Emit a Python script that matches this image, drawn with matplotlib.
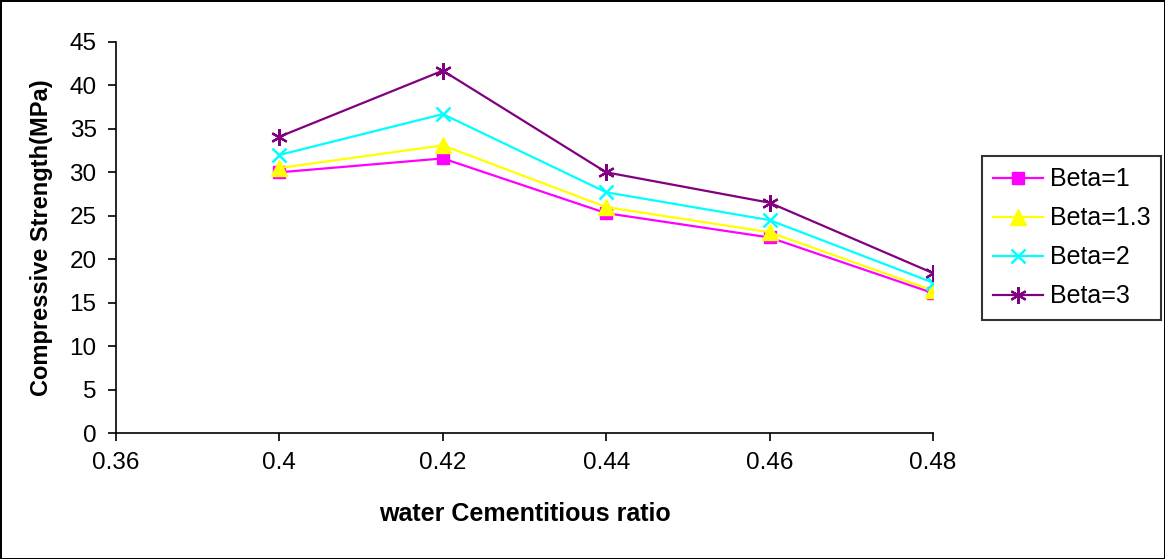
import matplotlib.pyplot as plt

plt.rcParams['font.family'] = ['Liberation Sans', 'DejaVu Sans']

# category axis (as in a spreadsheet line chart); 0.36 has no data
categories = ['0.36', '0.4', '0.42', '0.44', '0.46', '0.48']
data_categories = ['0.4', '0.42', '0.44', '0.46', '0.48']

# compressive strength (MPa) per beta value
beta_1 = [30.0, 31.6, 25.3, 22.5, 16.1]
beta_1_3 = [30.5, 33.1, 26.0, 23.1, 16.4]
beta_2 = [32.0, 36.7, 27.7, 24.5, 17.3]
beta_3 = [34.1, 41.7, 30.0, 26.5, 18.4]

pos = [categories.index(c) for c in data_categories]

fig = plt.figure(figsize=(11.65, 5.59), dpi=100, linewidth=2, edgecolor='black')
ax = fig.add_axes([0.0996, 0.2254, 0.7013, 0.6995])

ax.plot(pos, beta_1, color='#FF00FF', marker='s', markersize=9, lw=1.6, label='Beta=1')
ax.plot(pos, beta_1_3, color='#FFFF00', marker='^', markersize=11, lw=1.6, label='Beta=1.3')
ax.plot(pos, beta_2, color='#00FFFF', marker='x', markersize=10, mew=1.8, lw=1.6, label='Beta=2')
ax.plot(pos, beta_3, color='#800080', marker=(6, 2, 0), markersize=12, mew=1.6, lw=1.6, label='Beta=3')

ax.set_xlim(0, len(categories) - 1)
ax.set_ylim(0, 45)
ax.set_xticks(range(len(categories)))
ax.set_xticklabels(categories)
ax.set_yticks(range(0, 46, 5))
ax.tick_params(labelsize=17.5, length=6, width=1.2, direction='out', pad=8)
ax.spines['top'].set_visible(False)
ax.spines['right'].set_visible(False)
ax.spines['left'].set_linewidth(1.2)
ax.spines['bottom'].set_linewidth(1.2)

ax.set_xlabel('water Cementitious ratio', fontsize=18, fontweight='bold', labelpad=20)
ax.set_ylabel('Compressive Strength(MPa)', fontsize=17, fontweight='bold', labelpad=12)

leg = fig.legend(loc='upper left', bbox_to_anchor=(982 / 1165, 1 - 156 / 559),
                 fontsize=18, frameon=True, fancybox=False, edgecolor='black',
                 borderpad=0.45, labelspacing=0.6, handlelength=2.0, handletextpad=0.25,
                 borderaxespad=0)
leg.get_frame().set_linewidth(1.5)

fig.savefig('out.png', dpi=100)
